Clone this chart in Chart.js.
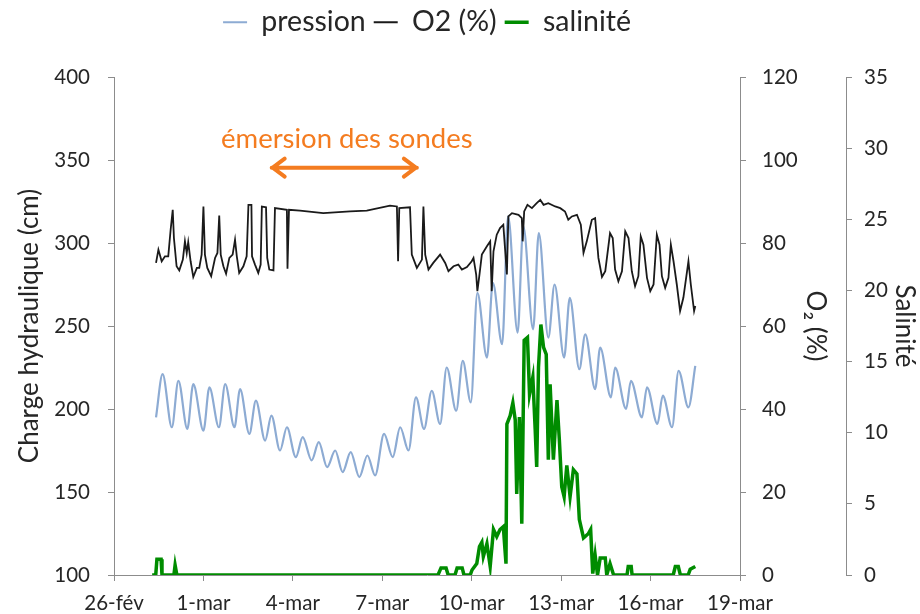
<!DOCTYPE html>
<html lang="fr">
<head>
<meta charset="utf-8">
<title>Charge hydraulique, O2 et salinité</title>
<script src="https://cdn.jsdelivr.net/npm/chart.js@4.4.0/dist/chart.umd.min.js"></script>
<style>
  html, body { margin: 0; padding: 0; background: #fff; }
</style>
</head>
<body>
<canvas id="graphique" width="920" height="614"></canvas>
<script>
// axe des dates : jours comptés depuis le 26 février
var etiquettesDates = ['26-fév', '1-mar', '4-mar', '7-mar', '10-mar', '13-mar', '16-mar', '19-mar'];

// pression (charge hydraulique, cm) : crêtes et creux de marée
var pressionJours = [1.41, 1.63, 1.94, 2.16, 2.46, 2.66, 3.00, 3.20, 3.52, 3.73, 4.04, 4.23, 4.54, 4.76,
  5.07, 5.28, 5.57, 5.80, 6.10, 6.33, 6.63, 6.87, 7.15, 7.42, 7.67, 7.94, 8.23, 8.50, 8.76, 9.06,
  9.35, 9.60, 9.88, 10.13, 10.40, 10.66, 10.94, 11.16, 11.48, 11.70, 11.97, 12.19, 12.51, 12.71,
  13.02, 13.22, 13.54, 13.73, 14.06, 14.25, 14.57, 14.78, 15.10, 15.29, 15.61, 15.81, 16.14, 16.31,
  16.67, 16.81, 17.18, 17.34, 17.71, 17.88, 18.23, 18.41, 18.72, 18.94, 19.27, 19.50];
var pressionValeurs = [195, 221, 189, 217, 188, 215, 187, 213, 189, 215, 189, 212, 185, 205,
  181, 196, 175, 189, 171, 183, 169, 180, 165, 175, 162, 174, 159, 172, 160, 185,
  171, 189, 175, 207, 188, 211, 191, 225, 199, 229, 204, 270, 231, 276,
  239, 316, 246, 310, 248, 306, 243, 275, 231, 267, 224, 245, 212, 237,
  207, 225, 200, 217, 195, 213, 191, 208, 189, 223, 201, 226];

// O2 (%)
var o2Jours = [1.41, 1.49, 1.60, 1.71, 1.82, 1.90, 1.97, 2.01, 2.10, 2.19, 2.31, 2.38, 2.44, 2.49,
  2.57, 2.66, 2.78, 2.86, 2.94, 3.00, 3.05, 3.13, 3.26, 3.39, 3.47, 3.53, 3.58, 3.67, 3.76, 3.87,
  3.98, 4.06, 4.12, 4.20, 4.34, 4.45, 4.51, 4.61, 4.63, 4.73, 4.84, 4.92, 4.96, 5.10, 5.14, 5.21,
  5.35, 5.40, 5.80, 5.82, 5.87, 6.24, 7.02, 7.92, 8.48, 9.26, 9.49, 9.53, 9.57, 9.93, 9.99, 10.16,
  10.33, 10.38, 10.44, 10.55, 10.71, 10.94, 11.11, 11.22, 11.39, 11.55, 11.67, 11.84, 12.00, 12.06,
  12.15, 12.19, 12.26, 12.34, 12.51, 12.62, 12.67, 12.73, 12.84, 12.95, 13.06, 13.18, 13.23, 13.35,
  13.57, 13.68, 13.71, 13.76, 13.87, 14.02, 14.18, 14.30, 14.41, 14.57, 14.80, 14.97, 15.13, 15.24,
  15.36, 15.53, 15.66, 15.75, 15.86, 16.03, 16.14, 16.25, 16.37, 16.48, 16.64, 16.73, 16.81, 16.92,
  17.04, 17.15, 17.26, 17.37, 17.48, 17.59, 17.67, 17.76, 17.88, 17.99, 18.10, 18.21, 18.30, 18.38,
  18.49, 18.60, 18.68, 18.77, 18.88, 18.99, 19.10, 19.27, 19.35, 19.46, 19.50];
var o2Valeurs = [75.2, 78.4, 75.6, 76.8, 76.8, 83.2, 88.0, 81.2, 74.4, 73.4, 76.0, 80.4, 77.6, 80.2,
  75.6, 71.8, 74.0, 74.0, 77.2, 88.8, 77.2, 74.0, 72.0, 76.4, 77.6, 86.6, 77.2, 74.4, 72.6, 76.4,
  77.2, 80.8, 76.8, 72.8, 74.4, 76.8, 89.2, 89.2, 76.8, 74.8, 72.8, 74.8, 88.8, 88.6, 76.4, 73.6,
  73.4, 88.4, 88.0, 73.8, 88.0, 87.8, 87.2, 87.6, 87.8, 89.0, 88.8, 75.6, 88.4, 88.6, 77.2, 74.0,
  76.0, 88.8, 77.2, 73.6, 75.2, 77.2, 75.2, 73.2, 74.4, 74.8, 73.6, 74.2, 75.6, 76.4,
  72.4, 68.4, 72.4, 77.2, 79.2, 80.4, 68.4, 78.0, 82.0, 83.6, 84.4, 72.4, 86.4, 87.2,
  86.8, 86.0, 80.4, 87.6, 89.2, 88.4, 89.6, 90.4, 89.2, 89.6, 88.8, 88.4, 87.6, 85.6,
  86.4, 86.8, 84.4, 77.6, 80.4, 85.6, 86.0, 76.4, 71.8, 73.2, 82.4, 81.2, 73.6, 70.8,
  73.2, 82.8, 81.2, 73.2, 69.6, 72.0, 81.6, 79.6, 71.6, 68.4, 70.0, 82.0, 79.6, 72.0,
  69.2, 71.6, 79.6, 75.6, 70.0, 63.6, 66.8, 75.6, 70.0, 63.6, 64.8];

// salinité
var salJours = [1.28, 1.40, 1.44, 1.58, 1.61, 2.01, 2.05, 2.11, 10.87, 10.97, 11.14, 11.21, 11.44,
  11.51, 11.68, 11.74, 11.95, 12.01, 12.17, 12.26, 12.34, 12.39, 12.51, 12.62, 12.73, 12.84, 12.95,
  13.06, 13.15, 13.18, 13.29, 13.38, 13.46, 13.51, 13.60, 13.68, 13.76, 13.87, 13.94, 14.05, 14.13,
  14.18, 14.24, 14.32, 14.41, 14.50, 14.57, 14.63, 14.74, 14.86, 14.94, 15.02, 15.10, 15.19, 15.30,
  15.41, 15.53, 15.61, 15.75, 15.91, 15.99, 16.06, 16.14, 16.22, 16.31, 16.48, 16.53, 16.64, 16.76,
  17.21, 17.25, 17.35, 17.38, 18.76, 18.83, 18.93, 19.00, 19.26, 19.33, 19.50];
var salValeurs = [0, 0, 1.1, 1.1, 0, 0, 0.7, 0, 0, 0.5, 0.5, 0, 0,
  0.5, 0.5, 0, 0, 0.35, 0.8, 2.0, 2.3, 1.3, 2.2, 0.6, 3.2, 2.7, 3.2,
  3.4, 0.8, 10.6, 11.2, 12.1, 10.9, 5.7, 11.1, 3.6, 16.5, 16.7, 12.7, 13.9, 10.2,
  7.6, 14.6, 17.6, 16.0, 15.5, 8.1, 13.4, 8.1, 12.3, 9.5, 6.2, 5.5, 7.7, 5.5,
  7.4, 7.1, 3.9, 2.6, 2.9, 3.2, 0.1, 1.4, 0, 1.2, 1.2, 0, 0.8, 0,
  0, 0.6, 0.6, 0, 0, 0.6, 0.6, 0, 0, 0.4, 0.6];

var POLICE = "Lato, 'Open Sans', sans-serif";
var GRIS_AXE = '#8c8c8c';
var TEXTE = '#262626';
var ORANGE = '#F47C20';

// annotation « émersion des sondes » (jours / cm sur l'axe de gauche)
var annotationEmersion = {
  texte: 'émersion des sondes',
  jourTexte: 7.81, valeurTexte: 357.4,
  jourDebut: 5.29, jourFin: 10.16, valeurFleche: 345.4
};

function points(jours, valeurs) {
  return jours.map(function(j, i) {
    return { x: j, y: valeurs[i] };
  });
}

var pluginEmersion = {
  id: 'emersion',
  afterDatasetsDraw: function(chart) {
    var ctx = chart.ctx;
    var sx = chart.scales.x, sy = chart.scales.y;
    var a = annotationEmersion;
    ctx.save();
    ctx.fillStyle = ORANGE;
    ctx.font = '27.5px ' + POLICE;
    ctx.textAlign = 'center';
    ctx.textBaseline = 'alphabetic';
    ctx.fillText(a.texte, sx.getPixelForValue(a.jourTexte), sy.getPixelForValue(a.valeurTexte));

    var x1 = sx.getPixelForValue(a.jourDebut);
    var x2 = sx.getPixelForValue(a.jourFin);
    var y = sy.getPixelForValue(a.valeurFleche);
    ctx.strokeStyle = ORANGE;
    ctx.lineWidth = 4;
    ctx.lineCap = 'round';
    ctx.lineJoin = 'round';
    ctx.beginPath();
    ctx.moveTo(x1, y);
    ctx.lineTo(x2, y);
    ctx.moveTo(x1 + 13, y - 9);
    ctx.lineTo(x1 + 1, y);
    ctx.lineTo(x1 + 13, y + 9);
    ctx.moveTo(x2 - 13, y - 9);
    ctx.lineTo(x2 - 1, y);
    ctx.lineTo(x2 - 13, y + 9);
    ctx.stroke();
    ctx.restore();
  }
};

function axeGrille() {
  return { display: true, drawOnChartArea: false, drawTicks: true, tickLength: 6, color: GRIS_AXE };
}

new Chart(document.getElementById('graphique'), {
  type: 'line',
  data: {
    datasets: [
      {
        label: 'pression',
        data: points(pressionJours, pressionValeurs),
        yAxisID: 'y',
        borderColor: '#8DABD3',
        borderWidth: 2.2,
        cubicInterpolationMode: 'monotone',
        pointRadius: 0,
        order: 3
      },
      {
        label: 'O2 (%)',
        data: points(o2Jours, o2Valeurs),
        yAxisID: 'yO2',
        borderColor: '#1a1a1a',
        borderWidth: 1.8,
        tension: 0,
        pointRadius: 0,
        order: 2
      },
      {
        label: 'salinité',
        data: points(salJours, salValeurs),
        yAxisID: 'ySal',
        borderColor: '#008C00',
        borderWidth: 3.5,
        tension: 0,
        pointRadius: 0,
        order: 1
      }
    ]
  },
  options: {
    responsive: false,
    animation: false,
    layout: { padding: 0 },
    plugins: {
      legend: {
        position: 'top',
        fullSize: false, // centrée sur la zone de tracé
        labels: {
          usePointStyle: true,
          pointStyle: 'line',
          pointStyleWidth: 24,
          padding: 8,
          color: TEXTE,
          font: { family: POLICE, size: 28.5 },
          sort: function(a, b) { return a.datasetIndex - b.datasetIndex; }
        }
      },
      // simple espace entre la légende et le graphique
      subtitle: {
        display: true,
        text: '',
        weight: 100,
        font: { size: 1, lineHeight: 1 },
        padding: { top: 0, bottom: 29.5 }
      },
      tooltip: { enabled: false }
    },
    scales: {
      x: {
        type: 'linear',
        min: 0,
        max: 21,
        afterFit: function(s) { s.height = 39; },
        ticks: {
          stepSize: 3,
          autoSkip: false,
          maxRotation: 0,
          padding: 10,
          color: TEXTE,
          font: { family: POLICE, size: 20.5 },
          callback: function(v) { return etiquettesDates[Math.round(v / 3)]; }
        },
        grid: axeGrille(),
        border: { display: true, color: GRIS_AXE }
      },
      y: {
        position: 'left',
        min: 100,
        max: 400,
        afterFit: function(s) { s.width = 114; },
        ticks: { stepSize: 50, padding: 18, color: TEXTE, font: { family: POLICE, size: 20.5 } },
        grid: axeGrille(),
        border: { display: true, color: GRIS_AXE },
        title: {
          display: true,
          text: 'Charge hydraulique (cm)',
          color: TEXTE,
          font: { family: POLICE, size: 26 },
          padding: { top: 14, bottom: 0 }
        }
      },
      yO2: {
        position: 'right',
        min: 0,
        max: 120,
        afterFit: function(s) { s.width = 106; },
        ticks: { stepSize: 20, padding: 16, color: TEXTE, font: { family: POLICE, size: 20.5 } },
        grid: axeGrille(),
        border: { display: true, color: GRIS_AXE },
        title: {
          display: true,
          text: 'O₂ (%)',
          color: TEXTE,
          font: { family: POLICE, size: 26 },
          padding: { top: 15, bottom: 0 }
        }
      },
      ySal: {
        position: 'right',
        min: 0,
        max: 35,
        afterFit: function(s) { s.width = 74; },
        ticks: { stepSize: 5, padding: 12, color: TEXTE, font: { family: POLICE, size: 20.5 } },
        grid: axeGrille(),
        border: { display: true, color: GRIS_AXE },
        title: {
          display: true,
          text: 'Salinité',
          color: TEXTE,
          font: { family: POLICE, size: 26 },
          padding: { top: 0, bottom: 0 }
        }
      }
    }
  },
  plugins: [pluginEmersion]
});
</script>
</body>
</html>
